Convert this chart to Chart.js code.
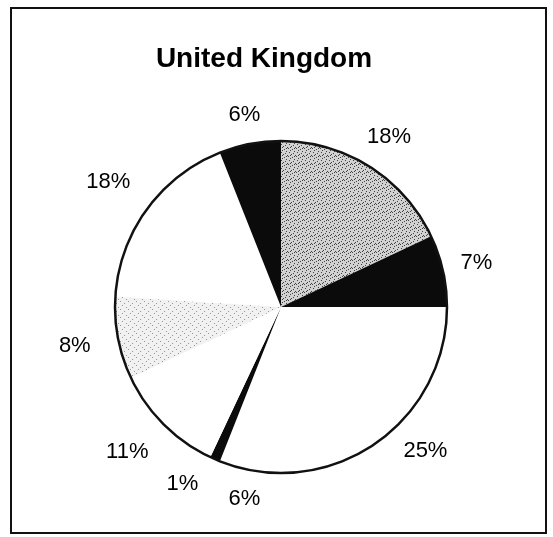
<!DOCTYPE html>
<html>
<head>
<meta charset="utf-8">
<script src="https://cdn.jsdelivr.net/npm/chart.js@4/dist/chart.umd.min.js"></script>
<style>
  body { margin: 0; background: #fff; }
  canvas { display: block; }
</style>
</head>
<body>
<canvas id="pie" width="553" height="537"></canvas>
<script>
// shares of each slice, clockwise from 12 o'clock
const shares = [18, 7, 25, 6, 1, 11, 8, 18, 6];
const sliceLabels = ["18%", "7%", "25%", "6%", "1%", "11%", "8%", "18%", "6%"];
const chartTitle = "United Kingdom";

function stipple(bg, dot, dots) {
  const c = document.createElement("canvas");
  c.width = 8;
  c.height = 8;
  const x = c.getContext("2d");
  x.fillStyle = bg;
  x.fillRect(0, 0, 8, 8);
  x.fillStyle = dot;
  dots.forEach(d => x.fillRect(d[0], d[1], 1, 1));
  return x.createPattern(c, "repeat");
}

const darkDots = stipple("#d2d2d2", "#404040",
  [[1, 0], [5, 1], [3, 2], [7, 3], [0, 4], [4, 5], [2, 6], [6, 7], [6, 4], [2, 3]]);
const lightDots = stipple("#f1f1f1", "#999",
  [[2, 1], [6, 3], [0, 5], [4, 7]]);

const colors = [darkDots, "#0b0b0b", "#ffffff", "#ffffff", "#0b0b0b",
  "#ffffff", lightDots, "#ffffff", "#0b0b0b"];

const decor = {
  id: "decor",
  afterDatasetsDraw(chart) {
    const ctx = chart.ctx;
    const meta = chart.getDatasetMeta(0);
    const a0 = meta.data[0];
    ctx.save();
    // frame
    ctx.strokeStyle = "#111";
    ctx.lineWidth = 2;
    ctx.strokeRect(11, 8, chart.width - 18, chart.height - 12);
    // outline of the pie
    ctx.lineWidth = 2.5;
    ctx.beginPath();
    ctx.arc(a0.x, a0.y, a0.outerRadius, 0, Math.PI * 2);
    ctx.stroke();
    // title
    ctx.fillStyle = "#000";
    ctx.font = "bold 28px 'Liberation Sans', Arial, sans-serif";
    ctx.textAlign = "center";
    ctx.textBaseline = "middle";
    ctx.fillText(chartTitle, 264, 59);
    // percent labels, pushed out so the edge nearest the pie keeps a gap
    ctx.font = "22px 'Liberation Sans', Arial, sans-serif";
    let prev = null;
    meta.data.forEach((arc, i) => {
      const halfW = ctx.measureText(sliceLabels[i]).width / 2;
      const place = ang => {
        const c = Math.cos(ang), s = Math.sin(ang);
        let r = arc.outerRadius + 17 + Math.abs(c) * halfW + Math.abs(s) * 8;
        if (c < 0) r += 10 * Math.abs(c);
        return [arc.x + c * r, arc.y + s * r];
      };
      let ang = (arc.startAngle + arc.endAngle) / 2;
      let p = place(ang);
      // crowded labels slide on round the pie
      while (prev && Math.hypot(p[0] - prev[0], p[1] - prev[1]) < 62) {
        ang += 0.01;
        p = place(ang);
      }
      ctx.fillText(sliceLabels[i], p[0], p[1]);
      prev = p;
    });
    ctx.restore();
  }
};

new Chart(document.getElementById("pie"), {
  type: "pie",
  data: {
    labels: sliceLabels,
    datasets: [{
      data: shares,
      backgroundColor: colors,
      borderWidth: 0
    }]
  },
  options: {
    responsive: false,
    animation: false,
    devicePixelRatio: 1,
    layout: { padding: { left: 115, right: 106, top: 141, bottom: 64 } },
    plugins: {
      legend: { display: false },
      tooltip: { enabled: false },
      title: { display: false }
    }
  },
  plugins: [decor]
});
</script>
</body>
</html>
